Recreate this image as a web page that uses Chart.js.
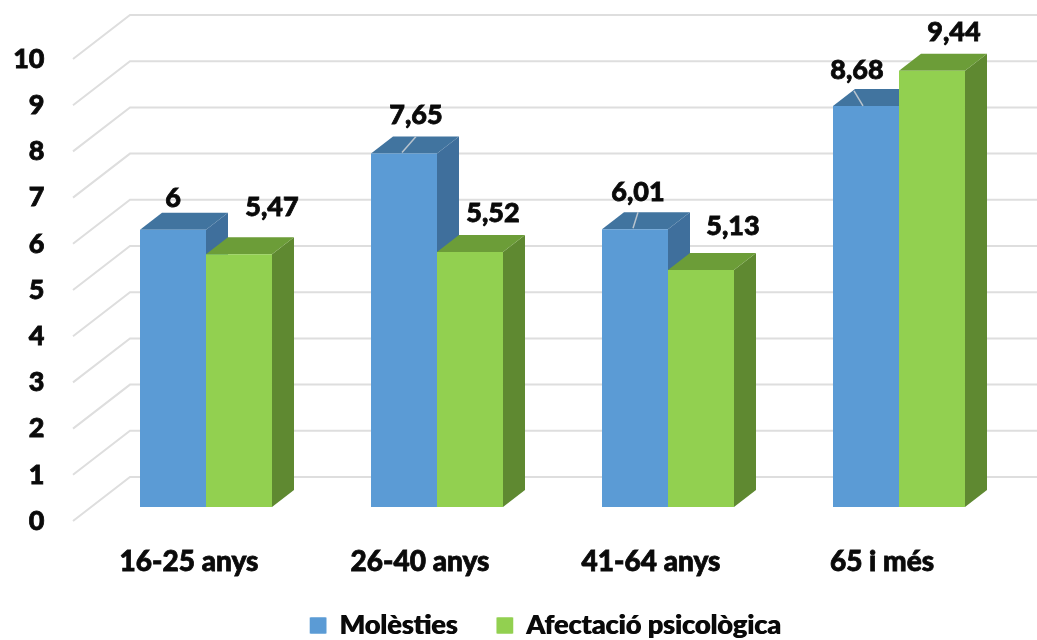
<!DOCTYPE html>
<html lang="ca">
<head>
<meta charset="utf-8">
<title>Molèsties i afectació psicològica</title>
<script src="https://cdn.jsdelivr.net/npm/chart.js@4"></script>
<style>
  html, body { margin: 0; padding: 0; background: #fff; }
  #wrap { position: relative; width: 1037px; height: 640px; }
</style>
</head>
<body>
<div id="wrap"><canvas id="chart" role="img" aria-label="Molèsties i afectació psicològica per grups d'edat"></canvas></div>
<script>
// Dades
const categories = ['16-25 anys', '26-40 anys', '41-64 anys', '65 i més'];
const molesties = [6, 7.65, 6.01, 8.68];
const afectacio = [5.47, 5.52, 5.13, 9.44];

// Colors
const BLUE = ['#5B9BD5', '#3F6F9C', '#41749F'];
const GREEN = ['#92D050', '#5F8931', '#6C9D38'];
const GRID = '#DEDEDE';
const TEXT = '#0A0A0A';
const FONT = 'Lato';
const TEXT_STROKE = 0.8;

// Profunditat de les barres i de la paret del fons
const DEPTH_X = 22;
const DEPTH_Y = 17;
const WALL_X = 39.5;
const WALL_Y = 30;
const FLOOR_X = 17.5;
const FLOOR_Y = 14;

// Desplaçament de cada etiqueta respecte al centre superior de la barra
const labelOffsets = [
  [[0, -32], [12, -38], [3, -37], [-9, -36]],
  [[33, -47], [23, -39], [32, -44], [22, -39]]
];

// Línies guia de les etiquetes [sèrie, categoria, x0, y0, x1, y1]
const leaders = [
  [0, 1, -2, -1, 12, -17],
  [0, 2, -2, -1, 3, -17],
  [0, 3, -12, -15, -3, 0]
];

function prism(ctx, bar, colors) {
  const x0 = bar.x - bar.width / 2;
  const x1 = bar.x + bar.width / 2;
  const top = bar.y;
  const base = bar.base;
  // Cara lateral
  ctx.fillStyle = colors[1];
  ctx.beginPath();
  ctx.moveTo(x1, top);
  ctx.lineTo(x1 + DEPTH_X, top - DEPTH_Y);
  ctx.lineTo(x1 + DEPTH_X, base - DEPTH_Y);
  ctx.lineTo(x1, base);
  ctx.closePath();
  ctx.fill();
  // Cara superior
  ctx.fillStyle = colors[2];
  ctx.beginPath();
  ctx.moveTo(x0, top);
  ctx.lineTo(x0 + DEPTH_X, top - DEPTH_Y);
  ctx.lineTo(x1 + DEPTH_X, top - DEPTH_Y);
  ctx.lineTo(x1, top);
  ctx.closePath();
  ctx.fill();
}

const bars3d = {
  id: 'bars3d',
  afterLayout(chart) {
    // Recol·loca la llegenda: el padding separa els elements, no la posició
    const legend = chart.legend;
    legend.top -= 37;
    legend.left += 38;
    legend.right += 38;
  },
  beforeDatasetsDraw(chart) {
    const { ctx, chartArea, scales } = chart;
    ctx.save();
    // Quadrícula en perspectiva
    ctx.strokeStyle = GRID;
    ctx.lineWidth = 2;
    scales.y.ticks.forEach((tick) => {
      const p = scales.y.getPixelForValue(tick.value);
      ctx.beginPath();
      ctx.moveTo(chartArea.left - FLOOR_X, p + FLOOR_Y);
      ctx.lineTo(chartArea.left + WALL_X, p - WALL_Y);
      ctx.lineTo(chart.width, p - WALL_Y);
      ctx.stroke();
    });
    // Cares laterals i superiors
    categories.forEach((_, i) => {
      prism(ctx, chart.getDatasetMeta(0).data[i], BLUE);
      prism(ctx, chart.getDatasetMeta(1).data[i], GREEN);
    });
    ctx.restore();
  },
  afterDatasetsDraw(chart) {
    const { ctx } = chart;
    ctx.save();
    ctx.strokeStyle = '#B9C4CE';
    ctx.lineWidth = 1.5;
    leaders.forEach(([s, i, x0, y0, x1, y1]) => {
      const bar = chart.getDatasetMeta(s).data[i];
      ctx.beginPath();
      ctx.moveTo(bar.x + x0, bar.y + y0);
      ctx.lineTo(bar.x + x1, bar.y + y1);
      ctx.stroke();
    });
    // Etiquetes de valor
    ctx.fillStyle = TEXT;
    ctx.strokeStyle = TEXT;
    ctx.lineWidth = TEXT_STROKE;
    ctx.font = `900 27px ${FONT}`;
    ctx.textAlign = 'center';
    ctx.textBaseline = 'middle';
    chart.data.datasets.forEach((ds, s) => {
      chart.getDatasetMeta(s).data.forEach((bar, i) => {
        const [dx, dy] = labelOffsets[s][i];
        const text = String(ds.data[i]).replace('.', ',');
        ctx.fillText(text, bar.x + dx, bar.y + dy);
        ctx.strokeText(text, bar.x + dx, bar.y + dy);
      });
    });
    ctx.restore();
  },
  afterDraw(chart) {
    // Segona passada de la llegenda per engruixir el text, com a la resta
    const legend = chart.legend;
    legend.left += TEXT_STROKE;
    legend.right += TEXT_STROKE;
    legend.draw();
    legend.left -= TEXT_STROKE;
    legend.right -= TEXT_STROKE;
  }
};

new Chart(document.getElementById('chart'), {
  type: 'bar',
  data: {
    labels: categories,
    datasets: [
      { label: 'Molèsties', data: molesties, backgroundColor: BLUE[0] },
      { label: 'Afectació psicològica', data: afectacio, backgroundColor: GREEN[0] }
    ]
  },
  options: {
    responsive: true,
    maintainAspectRatio: false,
    animation: false,
    layout: { padding: { left: 0, right: 22.5, top: 45, bottom: 0 } },
    categoryPercentage: 0.5714,
    barPercentage: 1,
    plugins: {
      tooltip: { enabled: false },
      legend: {
        position: 'bottom',
        maxHeight: 30,
        labels: {
          boxWidth: 16,
          boxHeight: 16,
          padding: 39,
          color: TEXT,
          font: { family: FONT, size: 27, weight: '900' }
        }
      }
    },
    scales: {
      x: {
        afterFit(scale) { scale.height = 103; },
        grid: { display: false },
        border: { display: false },
        ticks: {
          padding: 30,
          labelOffset: -17,
          color: TEXT,
          textStrokeColor: TEXT,
          textStrokeWidth: TEXT_STROKE,
          maxRotation: 0,
          font: { family: FONT, size: 28, weight: '900' }
        }
      },
      y: {
        min: 0,
        max: 10,
        afterFit(scale) {
          scale.width = 90.5;
          scale.paddingTop = 0;
        },
        grid: { display: false, drawTicks: false },
        border: { display: false },
        ticks: {
          stepSize: 1,
          padding: 46,
          labelOffset: 14,
          color: TEXT,
          textStrokeColor: TEXT,
          textStrokeWidth: TEXT_STROKE,
          font: { family: FONT, size: 27, weight: '900' }
        }
      }
    }
  },
  plugins: [bars3d]
});
</script>
</body>
</html>
